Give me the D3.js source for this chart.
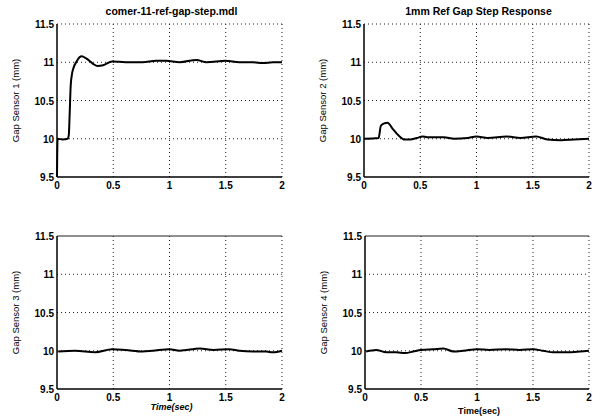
<!DOCTYPE html>
<html>
<head>
<meta charset="utf-8">
<script src="https://cdn.jsdelivr.net/npm/d3@7"></script>
<style>
  body { margin: 0; background: #fff; }
  svg { display: block; font-family: "Liberation Sans", Arial, sans-serif; }
</style>
</head>
<body>
<svg width="600" height="419"></svg>
<script>
const svg = d3.select('svg')

const titles = ['comer-11-ref-gap-step.mdl', '1mm Ref Gap Step Response', '', '']
const yLabels = ['Gap Sensor 1 (mm)', 'Gap Sensor 2 (mm)', 'Gap Sensor 3 (mm)', 'Gap Sensor 4 (mm)']
const xTicks = [0, 0.5, 1, 1.5, 2]
const yTicks = [9.5, 10, 10.5, 11, 11.5]

const t1 = [0, 0.005, 0.05, 0.095, 0.105, 0.112, 0.122, 0.135, 0.15, 0.17, 0.2, 0.22, 0.26, 0.32, 0.36, 0.41, 0.49, 0.61, 0.76, 0.88, 0.97, 1.09, 1.24, 1.33, 1.5, 1.62, 1.74, 1.83, 1.92, 2]
const v1 = [9.5, 10, 9.99, 10, 10.05, 10.3, 10.7, 10.86, 10.94, 11.0, 11.065, 11.08, 11.05, 10.98, 10.95, 10.96, 11.01, 11.0, 11.0, 11.02, 11.02, 11.0, 11.03, 11.0, 11.02, 11.0, 11.0, 10.99, 11.0, 11.0]

const t2 = [0, 0.13, 0.15, 0.18, 0.21, 0.25, 0.31, 0.36, 0.41, 0.47, 0.52, 0.56, 0.71, 0.8, 0.92, 1.0, 1.1, 1.27, 1.39, 1.53, 1.63, 1.75, 1.87, 2]
const v2 = [10, 10.01, 10.17, 10.2, 10.21, 10.14, 10.04, 9.99, 9.99, 10.01, 10.03, 10.02, 10.02, 10.0, 10.01, 10.03, 10.01, 10.03, 10.01, 10.03, 9.99, 9.98, 9.99, 10.0]

const t3 = [0.01, 0.16, 0.34, 0.49, 0.61, 0.76, 0.85, 1.0, 1.09, 1.27, 1.39, 1.53, 1.62, 1.74, 1.86, 1.92, 2.0]
const v3 = [9.99, 10.0, 9.98, 10.02, 10.01, 9.99, 10.0, 10.02, 10.0, 10.03, 10.01, 10.02, 10.0, 9.99, 9.99, 9.98, 10.0]

const t4 = [0.01, 0.1, 0.19, 0.28, 0.36, 0.43, 0.5, 0.61, 0.7, 0.79, 0.88, 1.0, 1.11, 1.26, 1.38, 1.5, 1.59, 1.68, 1.8, 1.92, 2.0]
const v4 = [9.99, 10.01, 9.98, 9.98, 9.97, 9.99, 10.01, 10.02, 10.03, 9.99, 10.0, 10.02, 10.01, 10.02, 10.01, 10.02, 10.0, 9.98, 9.98, 9.99, 10.0]

const series = [[t1, v1], [t2, v2], [t3, v3], [t4, v4]]
  .map(([ts, vs]) => ts.map((t, i) => [t, vs[i]]))

// panel boxes
const panels = [
  {x0: 57, x1: 282, y0: 24, y1: 177},
  {x0: 364, x1: 589, y0: 24, y1: 177},
  {x0: 57, x1: 282, y0: 236, y1: 389},
  {x0: 365, x1: 589, y0: 236, y1: 389}
]

panels.forEach((p, i) => {
  const x = d3.scaleLinear().domain([0, 2]).range([p.x0, p.x1])
  const y = d3.scaleLinear().domain([9.5, 11.5]).range([p.y1, p.y0])
  const g = svg.append('g')

  // dotted grid (top row has a dotted top edge, bottom row a solid one)
  g.selectAll('.gx').data(xTicks.slice(1)).enter().append('line')
    .attr('x1', d => x(d)).attr('x2', d => x(d))
    .attr('y1', p.y0).attr('y2', p.y1)
    .attr('stroke', '#222').attr('stroke-width', 1).attr('stroke-dasharray', '1,3')
  g.selectAll('.gy').data(yTicks.slice(1)).enter().append('line')
    .attr('x1', p.x0).attr('x2', p.x1)
    .attr('y1', d => y(d)).attr('y2', d => y(d))
    .attr('stroke', '#222').attr('stroke-width', 1)
    .attr('stroke-dasharray', d => (i >= 2 && d == 11.5) ? null : '1,3')

  // left and bottom axes solid
  g.append('line').attr('x1', p.x0).attr('x2', p.x0).attr('y1', p.y0).attr('y2', p.y1)
    .attr('stroke', '#000').attr('stroke-width', 1.5)
  g.append('line').attr('x1', p.x0).attr('x2', p.x1).attr('y1', p.y1).attr('y2', p.y1)
    .attr('stroke', '#000').attr('stroke-width', 1.3)

  // tick labels
  g.selectAll('.xl').data(xTicks).enter().append('text')
    .attr('x', d => x(d)).attr('y', p.y1 + 12)
    .attr('text-anchor', 'middle').attr('font-size', 10).attr('font-weight', 'bold')
    .text(d => d)
  g.selectAll('.yl').data(yTicks).enter().append('text')
    .attr('x', p.x0 - 3).attr('y', d => y(d) + 4)
    .attr('text-anchor', 'end').attr('font-size', 10).attr('font-weight', 'bold')
    .text(d => d)

  // y label
  g.append('text')
    .attr('transform', `translate(${p.x0 - 38},${(p.y0 + p.y1) / 2}) rotate(-90)`)
    .attr('text-anchor', 'middle').attr('font-size', 9.5)
    .text(yLabels[i])

  // title
  if (titles[i]) {
    g.append('text')
      .attr('x', (p.x0 + p.x1) / 2 + 2).attr('y', p.y0 - 9)
      .attr('text-anchor', 'middle').attr('font-size', 10.5).attr('font-weight', 'bold')
      .text(titles[i])
  }

  // x label on bottom row
  if (i >= 2) {
    g.append('text')
      .attr('x', (p.x0 + p.x1) / 2 + 2).attr('y', p.y1 + (i == 2 ? 21 : 25))
      .attr('text-anchor', 'middle').attr('font-size', 9)
      .attr('font-weight', 'bold').attr('font-style', i == 2 ? 'italic' : 'normal')
      .text('Time(sec)')
  }

  // trace
  const line = d3.line().x(d => x(d[0])).y(d => y(d[1])).curve(d3.curveMonotoneX)
  g.append('path').datum(series[i])
    .attr('d', line)
    .attr('fill', 'none').attr('stroke', '#000').attr('stroke-width', 2)
})
</script>
</body>
</html>
